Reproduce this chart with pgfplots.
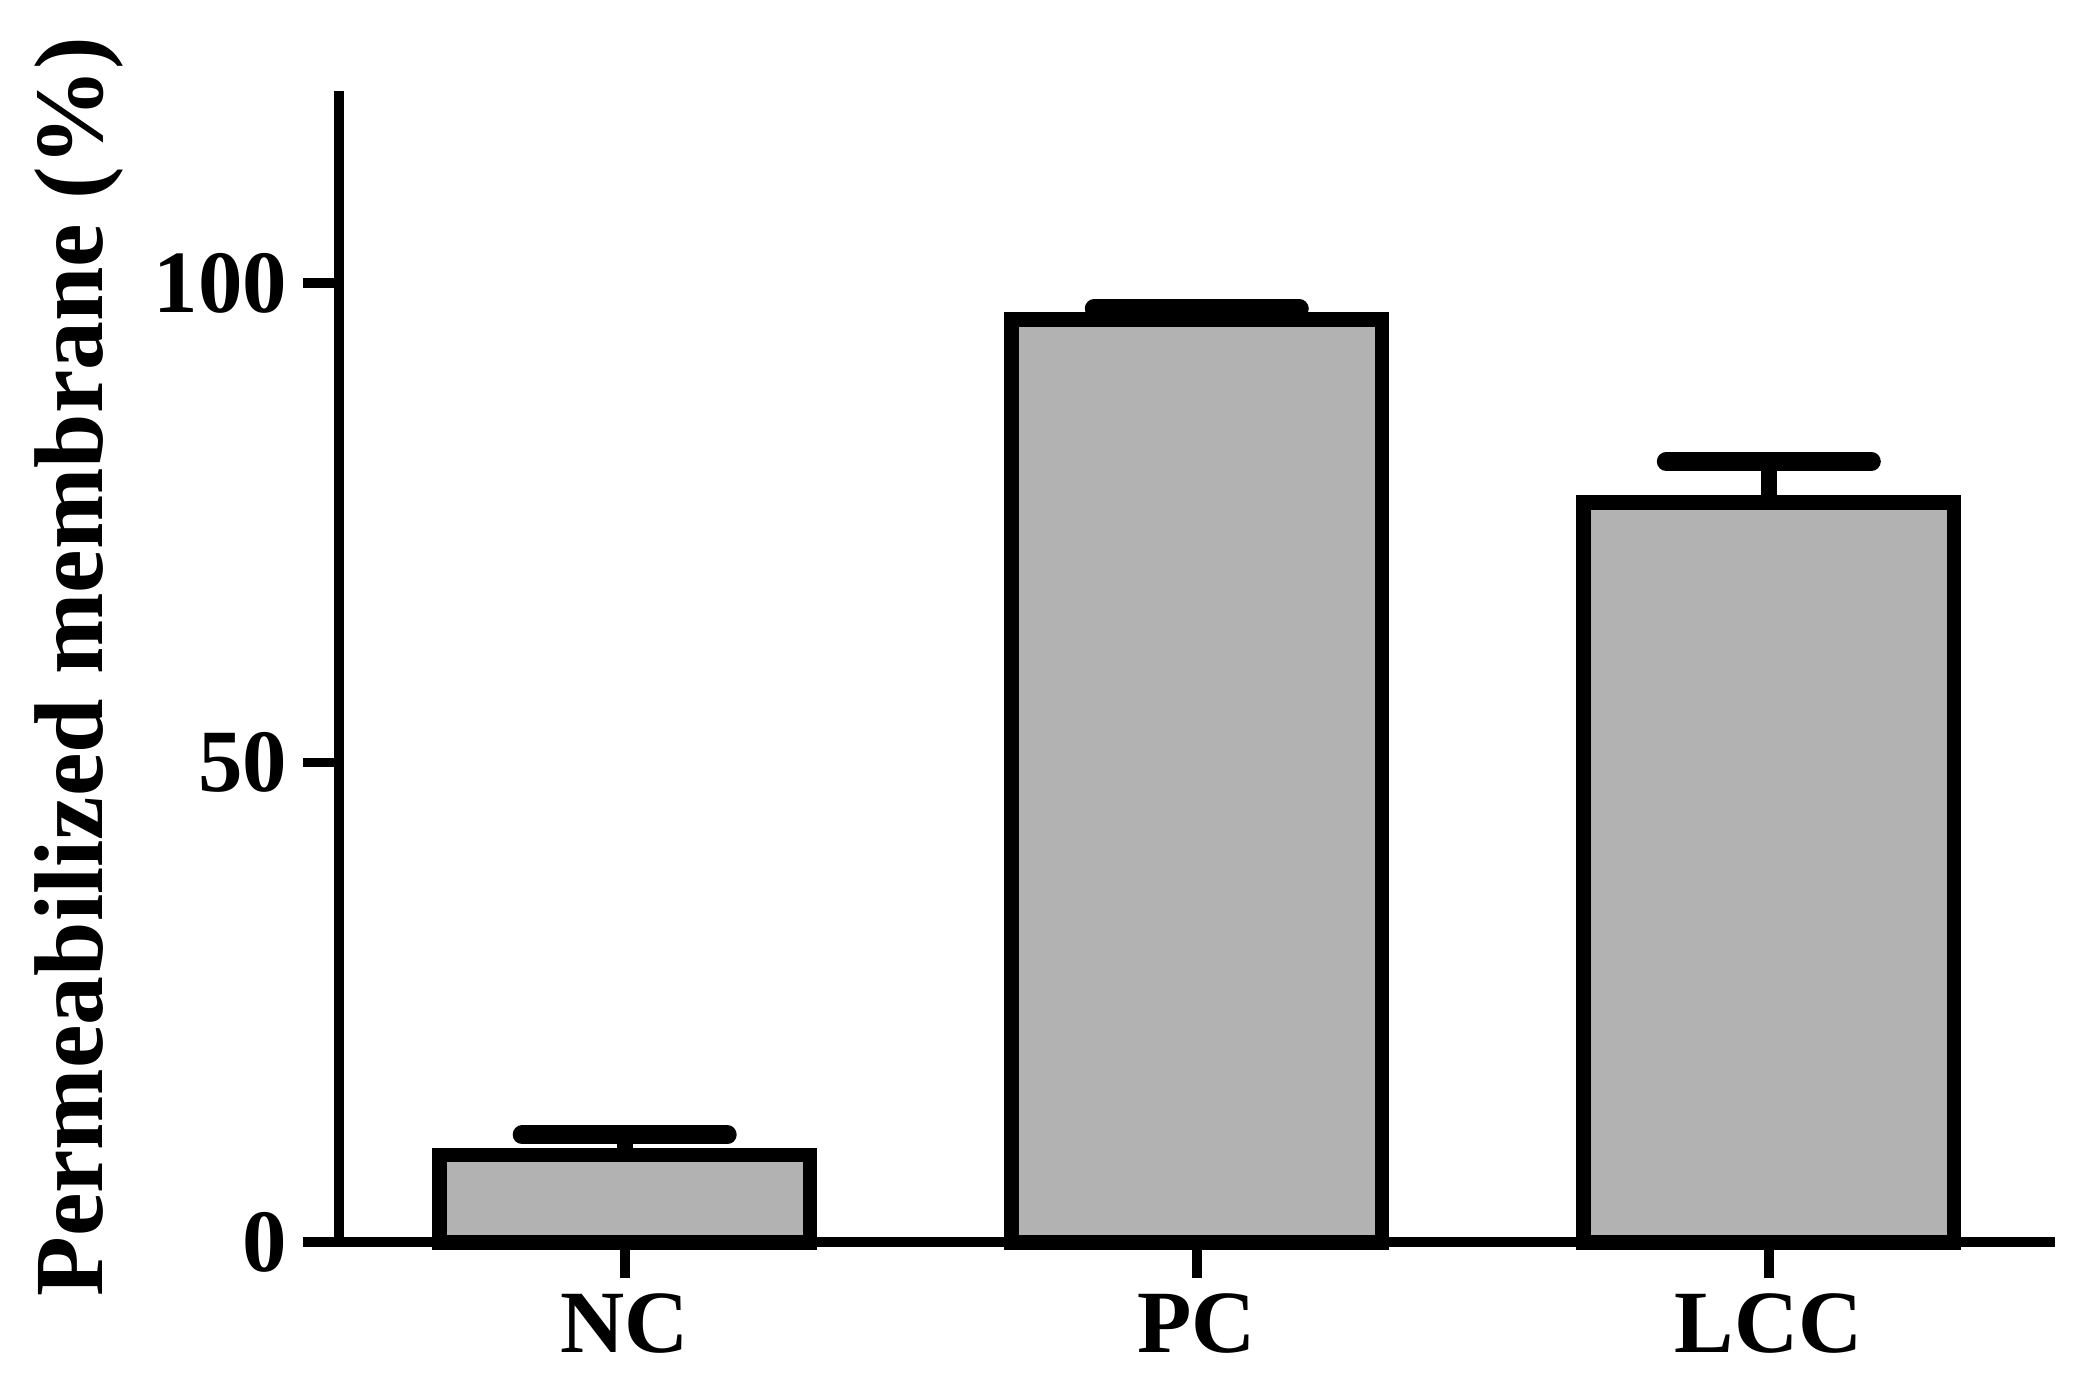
\documentclass[border=0pt]{standalone}
\usepackage{fontspec}
\setmainfont{Liberation Serif}
\usepackage{pgfplots}
\pgfplotsset{compat=1.18}
\definecolor{barfill}{HTML}{B2B2B2}
\begin{document}
\begin{tikzpicture}
\begin{axis}[
  scale only axis, width=384.6bp, height=258bp,
  xmin=-0.5, xmax=2.5, ymin=0, ymax=120,
  axis x line*=bottom, axis y line*=left,
  axis line style={line width=2.2bp, -},
  xtick={0,1,2}, xticklabels={NC,PC,LCC},
  ytick={0,50,100},
  tick style={line width=2.2bp, black},
  major tick length=8bp,
  tick align=outside,
  ticklabel style={font=\fontsize{20}{24}\selectfont\bfseries},
  /pgf/number format/assume math mode=true,
  ylabel={Permeabilized membrane (\%)},
  ylabel style={font=\fontsize{22}{26}\selectfont\bfseries},
  clip=false,
]
\coordinate (O) at (rel axis cs:0,0);
\addplot[ybar, bar width=83bp, fill=barfill, draw=black, line width=3.3bp,
  error bars/.cd, y dir=plus, y explicit,
  error bar style={line width=3.5bp, black},
  error mark options={rotate=90, line width=4.2bp, mark size=23bp, line cap=round, black}]
  coordinates {(0,9.1) +- (0,2.1) (1,96.2) +- (0,1.1) (2,77.1) +- (0,4.3)};
\end{axis}
\pgfresetboundingbox
\path ([shift={(-75.9bp,-34.2bp)}]O) rectangle ([shift={(394.5bp,278.4bp)}]O);
\end{tikzpicture}
\end{document}
